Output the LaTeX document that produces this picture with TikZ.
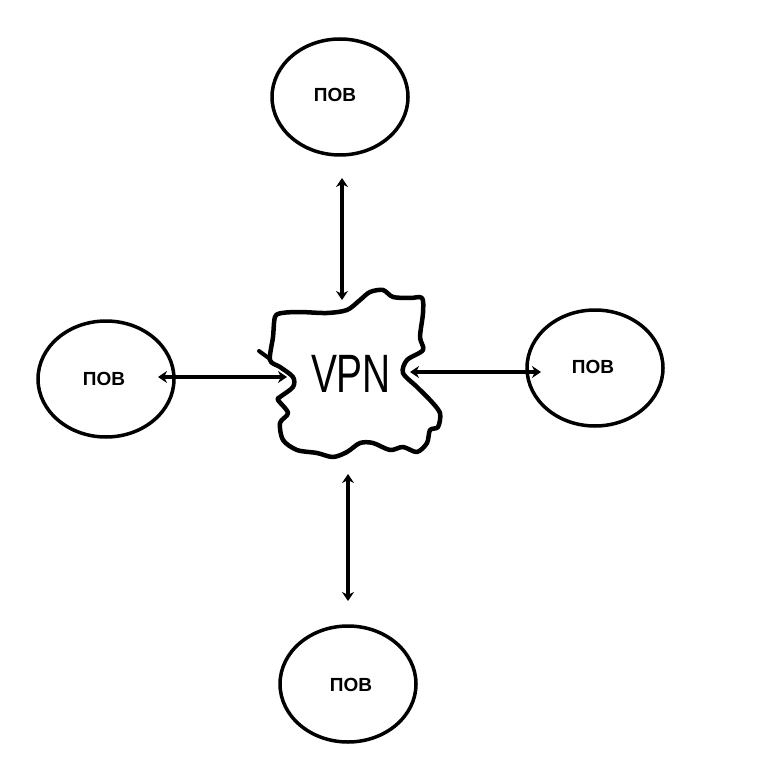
\documentclass[tikz,border=0pt]{standalone}
\usepackage{fontspec}
\setmainfont{Liberation Sans}
\usetikzlibrary{shapes.geometric,arrows.meta}
\begin{document}
\begin{tikzpicture}[x=1pt,y=-1pt,
  pov/.style={draw,line width=3.5pt,ellipse,minimum width=136pt,minimum height=116pt,inner sep=0pt},
  povtext/.style={font=\bfseries\fontsize{19}{19}\selectfont},
  link/.style={line width=3.5pt,{Stealth[length=9pt,width=12pt]}-{Stealth[length=9pt,width=12pt]}},
  cloudline/.style={line width=4.5pt,line join=round,line cap=round}]
\useasboundingbox[fill=white] (0,0) rectangle (766,775);
\node[pov] (top) at (340,97) {};
\node[povtext] (ttop) at (335,95) {ПОВ};
\node[pov] (left) at (106,379) {};
\node[povtext] (tleft) at (104,379) {ПОВ};
\node[pov] (right) at (595,368) {};
\node[povtext] (tright) at (593,367) {ПОВ};
\node[pov] (bottom) at (348,684) {};
\node[povtext] (tbottom) at (351,685) {ПОВ};
% cloud
\draw[cloudline] plot[smooth cycle,tension=0.5] coordinates {
 (282,313) (300,312) (327,313) (347,310) (360,300) (370,292) (383,290) (393,297)
 (410,298) (422,298) (423,313) (420,337) (423,350) (407,360) (403,373) (417,387)
 (430,400) (440,413) (438,427) (430,430) (427,443) (417,452) (403,447) (390,450)
 (373,443) (360,443) (347,452) (333,457) (317,453) (297,450) (283,440) (280,423)
 (288,413) (278,400) (280,397) (293,387) (293,377) (280,367) (270,360) (273,337)
 (275,317)};
\draw[line width=4pt,line cap=round] (259,351) -- (270,359);
\node[font=\fontsize{54}{54}\selectfont,xscale=0.72] (vpn) at (351,374) {VPN};
% connector end points
\coordinate (t1) at (342,178); \coordinate (t2) at (342,300);
\coordinate (l1) at (158,377); \coordinate (l2) at (287,377);
\coordinate (r1) at (410,372); \coordinate (r2) at (541,372);
\coordinate (b1) at (348,474); \coordinate (b2) at (348,601);
\draw[link] (t1) -- (t2);
\draw[link] (l1) -- (l2);
\draw[link] (r1) -- (r2);
\draw[link] (b1) -- (b2);
\end{tikzpicture}
\end{document}
